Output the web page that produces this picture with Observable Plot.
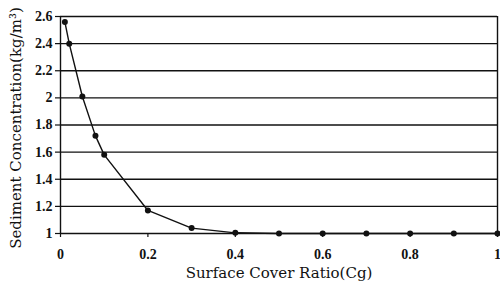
<!DOCTYPE html>
<html><head><meta charset="utf-8">
<script src="https://cdn.jsdelivr.net/npm/d3@7"></script>
<script src="https://cdn.jsdelivr.net/npm/@observablehq/plot@0.6"></script>
<style>
html,body{margin:0;padding:0;background:#fff;}
svg{font-family:"Liberation Serif","DejaVu Serif",serif;}
</style>
</head><body>
<div id="chart"></div>
<script>
const coverRatio = [0.01, 0.02, 0.05, 0.08, 0.1, 0.2, 0.3, 0.4, 0.5, 0.6, 0.7, 0.8, 0.9, 1.0];
const concentration = [2.56, 2.40, 2.01, 1.72, 1.58, 1.17, 1.04, 1.005, 1.0, 1.0, 1.0, 1.0, 1.0, 1.0];
const xTicks = [0, 0.2, 0.4, 0.6, 0.8, 1];
const yTicks = [1, 1.2, 1.4, 1.6, 1.8, 2, 2.2, 2.4, 2.6];
const xTitle = "Surface Cover Ratio(Cg)";
const yTitle = "Sediment Concentration(kg/m³)";

const data = coverRatio.map((x, i) => ({x, y: concentration[i]}));

const chart = Plot.plot({
  width: 500,
  height: 289,
  marginLeft: 60,
  marginRight: 3,
  marginTop: 16,
  marginBottom: 56,
  style: {fontFamily: '"Liberation Serif","DejaVu Serif",serif', fontSize: "14px", color: "#111", background: "#fff"},
  x: {domain: [0, 1]},
  y: {domain: [1, 2.6]},
  marks: [
    Plot.ruleY(yTicks, {stroke: "#111", strokeWidth: 1.4}),
    Plot.ruleX([0, 1], {stroke: "#111", strokeWidth: 1.4}),
    Plot.axisY({ticks: yTicks, tickFormat: d => String(d), tickSize: 5, tickPadding: 3, fontWeight: "bold", fontSize: 14, label: null, strokeWidth: 1.2}),
    Plot.axisX({ticks: xTicks, tickFormat: d => String(d), tickSize: 4, tickPadding: 12, fontWeight: "bold", fontSize: 14, label: null, strokeWidth: 1.2}),
    Plot.text([yTitle], {frameAnchor: "left", textAnchor: "middle", rotate: -90, dx: -44, dy: 3, fontSize: 15, fontFamily: '"DejaVu Serif",serif', fill: "#111"}),
    Plot.text([xTitle], {frameAnchor: "bottom", dy: 44, fontSize: 15, fontFamily: '"DejaVu Serif",serif', fill: "#111"}),
    Plot.line(data, {x: "x", y: "y", stroke: "#111", strokeWidth: 1.4}),
    Plot.dot(data, {x: "x", y: "y", r: 3, fill: "#111", stroke: "none"})
  ]
});
document.getElementById("chart").appendChild(chart);
</script>
</body></html>
